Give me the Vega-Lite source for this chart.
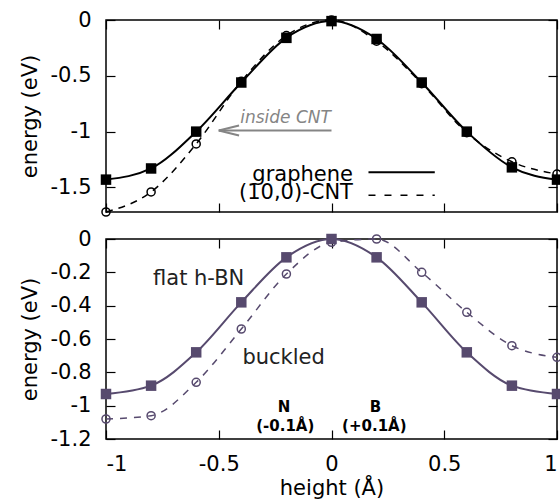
{
  "$schema": "https://vega.github.io/schema/vega-lite/v6.json",
  "padding": {"left": 18, "top": 8, "right": 3, "bottom": 0},
  "spacing": 7,
  "config": {
    "font": "DejaVu Sans",
    "view": {"stroke": "black", "strokeWidth": 1.5},
    "axis": {
      "grid": false, "domain": false, "tickColor": "black", "tickSize": -9, "tickWidth": 1.2,
      "labelFont": "DejaVu Sans", "labelFontSize": 21, "labelColor": "black", "labelPadding": 24,
      "titleFont": "DejaVu Sans", "titleFontSize": 21, "titleFontWeight": "normal", "titleColor": "black",
      "minExtent": 0
    }
  },
  "datasets": {
    "top": [
      {"h": -1, "E": -1.43, "s": "graphene"}, {"h": -0.8, "E": -1.33, "s": "graphene"}, {"h": -0.6, "E": -1.0, "s": "graphene"},
      {"h": -0.4, "E": -0.56, "s": "graphene"}, {"h": -0.2, "E": -0.16, "s": "graphene"}, {"h": 0, "E": -0.01, "s": "graphene"},
      {"h": 0.2, "E": -0.17, "s": "graphene"}, {"h": 0.4, "E": -0.56, "s": "graphene"}, {"h": 0.6, "E": -1.0, "s": "graphene"},
      {"h": 0.8, "E": -1.32, "s": "graphene"}, {"h": 1, "E": -1.43, "s": "graphene"},
      {"h": -1, "E": -1.72, "s": "cnt"}, {"h": -0.8, "E": -1.54, "s": "cnt"}, {"h": -0.6, "E": -1.11, "s": "cnt"},
      {"h": -0.4, "E": -0.55, "s": "cnt"}, {"h": -0.2, "E": -0.14, "s": "cnt"}, {"h": 0, "E": 0, "s": "cnt"},
      {"h": 0.2, "E": -0.19, "s": "cnt"}, {"h": 0.4, "E": -0.57, "s": "cnt"}, {"h": 0.6, "E": -1.01, "s": "cnt"},
      {"h": 0.8, "E": -1.27, "s": "cnt"}, {"h": 1, "E": -1.38, "s": "cnt"}
    ],
    "bot": [
      {"h": -1, "E": -0.93, "s": "flat"}, {"h": -0.8, "E": -0.88, "s": "flat"}, {"h": -0.6, "E": -0.68, "s": "flat"},
      {"h": -0.4, "E": -0.38, "s": "flat"}, {"h": -0.2, "E": -0.11, "s": "flat"}, {"h": 0, "E": 0, "s": "flat"},
      {"h": 0.2, "E": -0.11, "s": "flat"}, {"h": 0.4, "E": -0.38, "s": "flat"}, {"h": 0.6, "E": -0.68, "s": "flat"},
      {"h": 0.8, "E": -0.88, "s": "flat"}, {"h": 1, "E": -0.93, "s": "flat"},
      {"h": -1, "E": -1.08, "s": "buckled"}, {"h": -0.8, "E": -1.06, "s": "buckled"}, {"h": -0.6, "E": -0.86, "s": "buckled"},
      {"h": -0.4, "E": -0.54, "s": "buckled"}, {"h": -0.2, "E": -0.21, "s": "buckled"}, {"h": 0, "E": -0.02, "s": "buckled"},
      {"h": 0.2, "E": 0, "s": "buckled"}, {"h": 0.4, "E": -0.2, "s": "buckled"}, {"h": 0.6, "E": -0.44, "s": "buckled"},
      {"h": 0.8, "E": -0.64, "s": "buckled"}, {"h": 1, "E": -0.71, "s": "buckled"}
    ],
    "one": [{}]
  },
  "vconcat": [
    {
      "width": 451, "height": 192,
      "resolve": {"axis": {"x": "independent", "y": "independent"}},
      "layer": [
        {
          "data": {"name": "top"},
          "transform": [{"filter": "datum.s == 'graphene'"}],
          "mark": {"type": "line", "interpolate": "monotone", "color": "black", "strokeWidth": 2},
          "encoding": {
            "x": {"field": "h", "type": "quantitative", "scale": {"domain": [-1, 1], "nice": false, "zero": false},
                  "axis": {"orient": "bottom", "values": [-1, -0.5, 0, 0.5, 1], "labels": false, "title": null}},
            "y": {"field": "E", "type": "quantitative", "scale": {"domain": [-1.72, 0], "nice": false, "zero": false},
                  "axis": {"orient": "left", "values": [0, -0.5, -1, -1.5], "labelExpr": "'' + datum.value", "title": "energy (eV)", "titlePadding": 10}}
          }
        },
        {
          "data": {"name": "top"},
          "transform": [{"filter": "datum.s == 'cnt'"}],
          "mark": {"type": "line", "interpolate": "monotone", "color": "black", "strokeWidth": 1.5, "strokeDash": [7, 6]},
          "encoding": {
            "x": {"field": "h", "type": "quantitative", "axis": {"orient": "top", "values": [-1, -0.5, 0, 0.5, 1], "labels": false, "title": null}},
            "y": {"field": "E", "type": "quantitative", "axis": {"orient": "right", "values": [0, -0.5, -1, -1.5], "labels": false, "title": null}}
          }
        },
        {
          "data": {"name": "top"},
          "transform": [{"filter": "datum.s == 'graphene'"}],
          "mark": {"type": "point", "shape": "square", "filled": true, "color": "black", "size": 110, "opacity": 1},
          "encoding": {
            "x": {"field": "h", "type": "quantitative", "axis": null},
            "y": {"field": "E", "type": "quantitative", "axis": null}
          }
        },
        {
          "data": {"name": "top"},
          "transform": [{"filter": "datum.s == 'cnt'"}],
          "mark": {"type": "point", "shape": "circle", "filled": false, "color": "black", "strokeWidth": 1.5, "size": 65, "opacity": 1},
          "encoding": {
            "x": {"field": "h", "type": "quantitative", "axis": null},
            "y": {"field": "E", "type": "quantitative", "axis": null}
          }
        },
        {
          "data": {"name": "one"},
          "mark": {"type": "rule", "color": "#858585", "strokeWidth": 2},
          "encoding": {
            "x": {"datum": -0.5, "type": "quantitative", "axis": null}, "x2": {"datum": 0},
            "y": {"datum": -0.99, "type": "quantitative", "axis": null}, "y2": {"datum": -0.99}
          }
        },
        {
          "data": {"name": "one"},
          "mark": {"type": "rule", "color": "#858585", "strokeWidth": 2},
          "encoding": {
            "x": {"datum": -0.5, "type": "quantitative", "axis": null}, "x2": {"datum": -0.41},
            "y": {"datum": -0.99, "type": "quantitative", "axis": null}, "y2": {"datum": -0.945}
          }
        },
        {
          "data": {"name": "one"},
          "mark": {"type": "rule", "color": "#858585", "strokeWidth": 2},
          "encoding": {
            "x": {"datum": -0.5, "type": "quantitative", "axis": null}, "x2": {"datum": -0.41},
            "y": {"datum": -0.99, "type": "quantitative", "axis": null}, "y2": {"datum": -1.035}
          }
        },
        {
          "data": {"name": "one"},
          "mark": {"type": "text", "text": "inside CNT", "font": "DejaVu Sans", "fontStyle": "italic", "fontSize": 17, "color": "#858585", "align": "left", "baseline": "alphabetic"},
          "encoding": {
            "x": {"datum": -0.405, "type": "quantitative", "axis": null},
            "y": {"datum": -0.92, "type": "quantitative", "axis": null}
          }
        },
        {
          "data": {"name": "one"},
          "mark": {"type": "text", "text": "graphene", "font": "DejaVu Sans", "fontSize": 21, "color": "black", "align": "right", "baseline": "alphabetic"},
          "encoding": {
            "x": {"datum": 0.095, "type": "quantitative", "axis": null},
            "y": {"datum": -1.44, "type": "quantitative", "axis": null}
          }
        },
        {
          "data": {"name": "one"},
          "mark": {"type": "text", "text": "(10,0)-CNT", "font": "DejaVu Sans", "fontSize": 21, "color": "black", "align": "right", "baseline": "alphabetic"},
          "encoding": {
            "x": {"datum": 0.095, "type": "quantitative", "axis": null},
            "y": {"datum": -1.6, "type": "quantitative", "axis": null}
          }
        },
        {
          "data": {"name": "one"},
          "mark": {"type": "rule", "color": "black", "strokeWidth": 2},
          "encoding": {
            "x": {"datum": 0.164, "type": "quantitative", "axis": null}, "x2": {"datum": 0.458},
            "y": {"datum": -1.363, "type": "quantitative", "axis": null}, "y2": {"datum": -1.363}
          }
        },
        {
          "data": {"name": "one"},
          "mark": {"type": "rule", "color": "black", "strokeWidth": 1.5, "strokeDash": [7, 9]},
          "encoding": {
            "x": {"datum": 0.164, "type": "quantitative", "axis": null}, "x2": {"datum": 0.458},
            "y": {"datum": -1.571, "type": "quantitative", "axis": null}, "y2": {"datum": -1.571}
          }
        }
      ]
    },
    {
      "width": 451, "height": 200,
      "resolve": {"axis": {"x": "independent", "y": "independent"}},
      "layer": [
        {
          "data": {"name": "bot"},
          "transform": [{"filter": "datum.s == 'flat'"}],
          "mark": {"type": "line", "interpolate": "monotone", "color": "#574a6e", "strokeWidth": 2},
          "encoding": {
            "x": {"field": "h", "type": "quantitative", "scale": {"domain": [-1, 1], "nice": false, "zero": false},
                  "axis": {"orient": "bottom", "values": [-1, -0.5, 0, 0.5, 1], "labelExpr": "'' + datum.value", "labelPadding": 23, "title": "height (Å)", "titlePadding": 3}},
            "y": {"field": "E", "type": "quantitative", "scale": {"domain": [-1.2, 0], "nice": false, "zero": false},
                  "axis": {"orient": "left", "values": [0, -0.2, -0.4, -0.6, -0.8, -1, -1.2], "labelExpr": "'' + datum.value", "title": "energy (eV)", "titlePadding": 10}}
          }
        },
        {
          "data": {"name": "bot"},
          "transform": [{"filter": "datum.s == 'buckled'"}],
          "mark": {"type": "line", "interpolate": "monotone", "color": "#574a6e", "strokeWidth": 1.5, "strokeDash": [7, 7]},
          "encoding": {
            "x": {"field": "h", "type": "quantitative", "axis": {"orient": "top", "values": [-1, -0.5, 0, 0.5, 1], "labels": false, "title": null}},
            "y": {"field": "E", "type": "quantitative", "axis": {"orient": "right", "values": [0, -0.2, -0.4, -0.6, -0.8, -1, -1.2], "labels": false, "title": null}}
          }
        },
        {
          "data": {"name": "bot"},
          "transform": [{"filter": "datum.s == 'flat'"}],
          "mark": {"type": "point", "shape": "square", "filled": true, "color": "#574a6e", "size": 110, "opacity": 1},
          "encoding": {
            "x": {"field": "h", "type": "quantitative", "axis": null},
            "y": {"field": "E", "type": "quantitative", "axis": null}
          }
        },
        {
          "data": {"name": "bot"},
          "transform": [{"filter": "datum.s == 'buckled'"}],
          "mark": {"type": "point", "shape": "circle", "filled": false, "color": "#574a6e", "strokeWidth": 1.5, "size": 65, "opacity": 1},
          "encoding": {
            "x": {"field": "h", "type": "quantitative", "axis": null},
            "y": {"field": "E", "type": "quantitative", "axis": null}
          }
        },
        {
          "data": {"name": "one"},
          "mark": {"type": "text", "text": "flat h-BN", "font": "DejaVu Sans", "fontSize": 21, "color": "#222222", "align": "center", "baseline": "alphabetic"},
          "encoding": {
            "x": {"datum": -0.589, "type": "quantitative", "axis": null},
            "y": {"datum": -0.276, "type": "quantitative", "axis": null}
          }
        },
        {
          "data": {"name": "one"},
          "mark": {"type": "text", "text": "buckled", "font": "DejaVu Sans", "fontSize": 21, "color": "#222222", "align": "left", "baseline": "alphabetic"},
          "encoding": {
            "x": {"datum": -0.395, "type": "quantitative", "axis": null},
            "y": {"datum": -0.75, "type": "quantitative", "axis": null}
          }
        },
        {
          "data": {"name": "one"},
          "mark": {"type": "text", "text": "N", "font": "DejaVu Sans", "fontSize": 15, "fontWeight": "bold", "color": "black", "align": "center", "baseline": "alphabetic"},
          "encoding": {
            "x": {"datum": -0.21, "type": "quantitative", "axis": null},
            "y": {"datum": -1.038, "type": "quantitative", "axis": null}
          }
        },
        {
          "data": {"name": "one"},
          "mark": {"type": "text", "text": "(-0.1Å)", "font": "DejaVu Sans", "fontSize": 15, "fontWeight": "bold", "color": "black", "align": "center", "baseline": "alphabetic"},
          "encoding": {
            "x": {"datum": -0.205, "type": "quantitative", "axis": null},
            "y": {"datum": -1.15, "type": "quantitative", "axis": null}
          }
        },
        {
          "data": {"name": "one"},
          "mark": {"type": "text", "text": "B", "font": "DejaVu Sans", "fontSize": 15, "fontWeight": "bold", "color": "black", "align": "center", "baseline": "alphabetic"},
          "encoding": {
            "x": {"datum": 0.195, "type": "quantitative", "axis": null},
            "y": {"datum": -1.038, "type": "quantitative", "axis": null}
          }
        },
        {
          "data": {"name": "one"},
          "mark": {"type": "text", "text": "(+0.1Å)", "font": "DejaVu Sans", "fontSize": 15, "fontWeight": "bold", "color": "black", "align": "center", "baseline": "alphabetic"},
          "encoding": {
            "x": {"datum": 0.19, "type": "quantitative", "axis": null},
            "y": {"datum": -1.15, "type": "quantitative", "axis": null}
          }
        }
      ]
    }
  ]
}
